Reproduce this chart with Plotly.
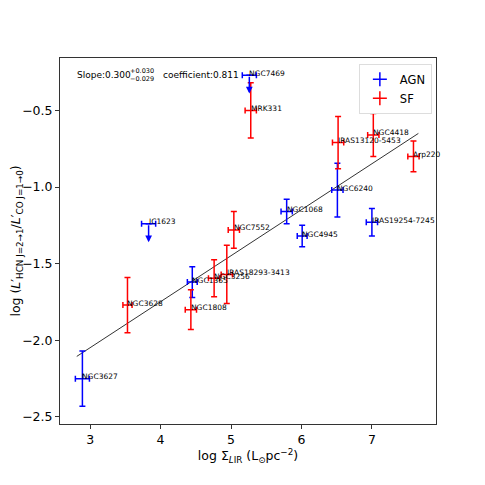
import plotly.graph_objects as go

# ---- data ----
agn_names = ["NGC7469", "IC1623", "NGC6240", "IRAS19254-7245", "NGC1068", "NGC4945", "NGC1365", "NGC3627"]
agn_x = [5.26, 3.83, 6.51, 7.00, 5.79, 6.01, 4.45, 2.89]
agn_y = [-0.27, -1.24, -1.02, -1.23, -1.16, -1.32, -1.62, -2.25]
agn_yerr = [0.0, 0.0, 0.175, 0.09, 0.08, 0.07, 0.10, 0.18]
agn_xerr = [0.1, 0.1, 0.08, 0.08, 0.08, 0.07, 0.07, 0.1]
agn_uplim = [True, True, False, False, False, False, False, False]

sf_names = ["MRK331", "IRAS13120-5453", "NGC4418", "Arp220", "NGC7552", "IRAS18293-3413",
            "NGC3256", "NGC1808", "NGC3628"]
sf_x = [5.28, 6.52, 7.02, 7.59, 5.04, 4.94, 4.76, 4.43, 3.53]
sf_y = [-0.50, -0.71, -0.66, -0.80, -1.28, -1.57, -1.595, -1.80, -1.77]
sf_yerr = [0.18, 0.17, 0.14, 0.10, 0.12, 0.19, 0.12, 0.13, 0.18]
sf_xerr = [0.08, 0.08, 0.08, 0.08, 0.08, 0.08, 0.08, 0.08, 0.065]

fit_slope = 0.300
fit_intercept = -2.948
fit_xrange = [2.81, 7.66]
uplim_len = 0.12

BLUE = "#0000ff"
RED = "#ff0000"

fig = go.Figure()

# fit line
fig.add_trace(go.Scatter(
    x=fit_xrange, y=[fit_slope * v + fit_intercept for v in fit_xrange],
    mode="lines", line=dict(color="#333333", width=1), showlegend=False, hoverinfo="skip"))


def add_series(xs, ys, xe, ye, color):
    fig.add_trace(go.Scatter(
        x=xs, y=ys, mode="markers",
        marker=dict(size=1, color=color, opacity=0),
        error_x=dict(type="data", array=xe, color=color, thickness=1.5, width=3),
        error_y=dict(type="data", array=ye, color=color, thickness=1.5, width=3),
        showlegend=False))


add_series(agn_x, agn_y, agn_xerr, agn_yerr, BLUE)
add_series(sf_x, sf_y, sf_xerr, sf_yerr, RED)

annotations = []
# upper limit arrows
for x, y, u in zip(agn_x, agn_y, agn_uplim):
    if u:
        annotations.append(dict(
            x=x, y=y - uplim_len, ax=x, ay=y, xref="x", yref="y", axref="x", ayref="y",
            text="", showarrow=True, arrowhead=2, arrowsize=0.9, arrowwidth=1.5, arrowcolor=BLUE))

# labels
for n, x, y in list(zip(agn_names, agn_x, agn_y)) + list(zip(sf_names, sf_x, sf_y)):
    annotations.append(dict(
        x=x, y=y, xref="x", yref="y", text=n, showarrow=False,
        xanchor="left", yanchor="middle", xshift=-2, yshift=2,
        font=dict(size=7.5, color="#000000", family="DejaVu Sans")))

# slope text
annotations.append(dict(x=0.04, y=0.953, xref="paper", yref="paper", showarrow=False,
                        text="Slope:0.300", xanchor="left", yanchor="middle",
                        font=dict(size=9, family="DejaVu Sans", color="black")))
annotations.append(dict(x=0.18, y=0.953, xref="paper", yref="paper", showarrow=False,
                        text="+0.030<br>−0.029", xanchor="left", yanchor="middle", align="left",
                        font=dict(size=6.5, family="DejaVu Sans", color="black")))
annotations.append(dict(x=0.268, y=0.953, xref="paper", yref="paper", showarrow=False,
                        text="coefficient:0.811", xanchor="left", yanchor="middle",
                        font=dict(size=9, family="DejaVu Sans", color="black")))

# legend dummies
fig.add_trace(go.Scatter(x=[None], y=[None], mode="markers", name="AGN",
                         marker=dict(symbol="cross-thin", size=10, line=dict(color=BLUE, width=1.5))))
fig.add_trace(go.Scatter(x=[None], y=[None], mode="markers", name="SF",
                         marker=dict(symbol="cross-thin", size=10, line=dict(color=RED, width=1.5))))

axis_common = dict(showline=True, linecolor="#333333", linewidth=1, mirror=True,
                   ticks="outside", ticklen=4, tickcolor="#333333", showgrid=False, zeroline=False,
                   automargin=False,
                   tickfont=dict(size=12.5, family="DejaVu Sans", color="black"))

fig.update_layout(
    width=485, height=485,
    margin=dict(l=52, r=57, t=50, b=69),
    plot_bgcolor="white", paper_bgcolor="white",
    font=dict(family="DejaVu Sans", color="black"),
    xaxis=dict(range=[2.572, 7.91], tickvals=[3, 4, 5, 6, 7],
               title=dict(text="log Σ<sub><i>L</i>IR</sub> (L<sub>⊙</sub>pc<sup>−2</sup>)",
                          font=dict(size=12.5), standoff=0),
               **axis_common),
    yaxis=dict(range=[-2.546, -0.158], tickvals=[-2.5, -2.0, -1.5, -1.0, -0.5],
               ticktext=["−2.5", "−2.0", "−1.5", "−1.0", "−0.5"],
               title=dict(text="log (<i>L</i>′<sub>HCN J=2→1</sub>/<i>L</i>′<sub>CO J=1→0</sub>)",
                          font=dict(size=12.5), standoff=2),
               **axis_common),
    legend=dict(x=0.989, y=0.984, xanchor="right", yanchor="top",
                bgcolor="white", bordercolor="#dddddd", borderwidth=1,
                tracegroupgap=0, itemwidth=30,
                font=dict(size=11.5, family="DejaVu Sans")),
    annotations=annotations,
    showlegend=True,
)

fig.write_html("out.html")
